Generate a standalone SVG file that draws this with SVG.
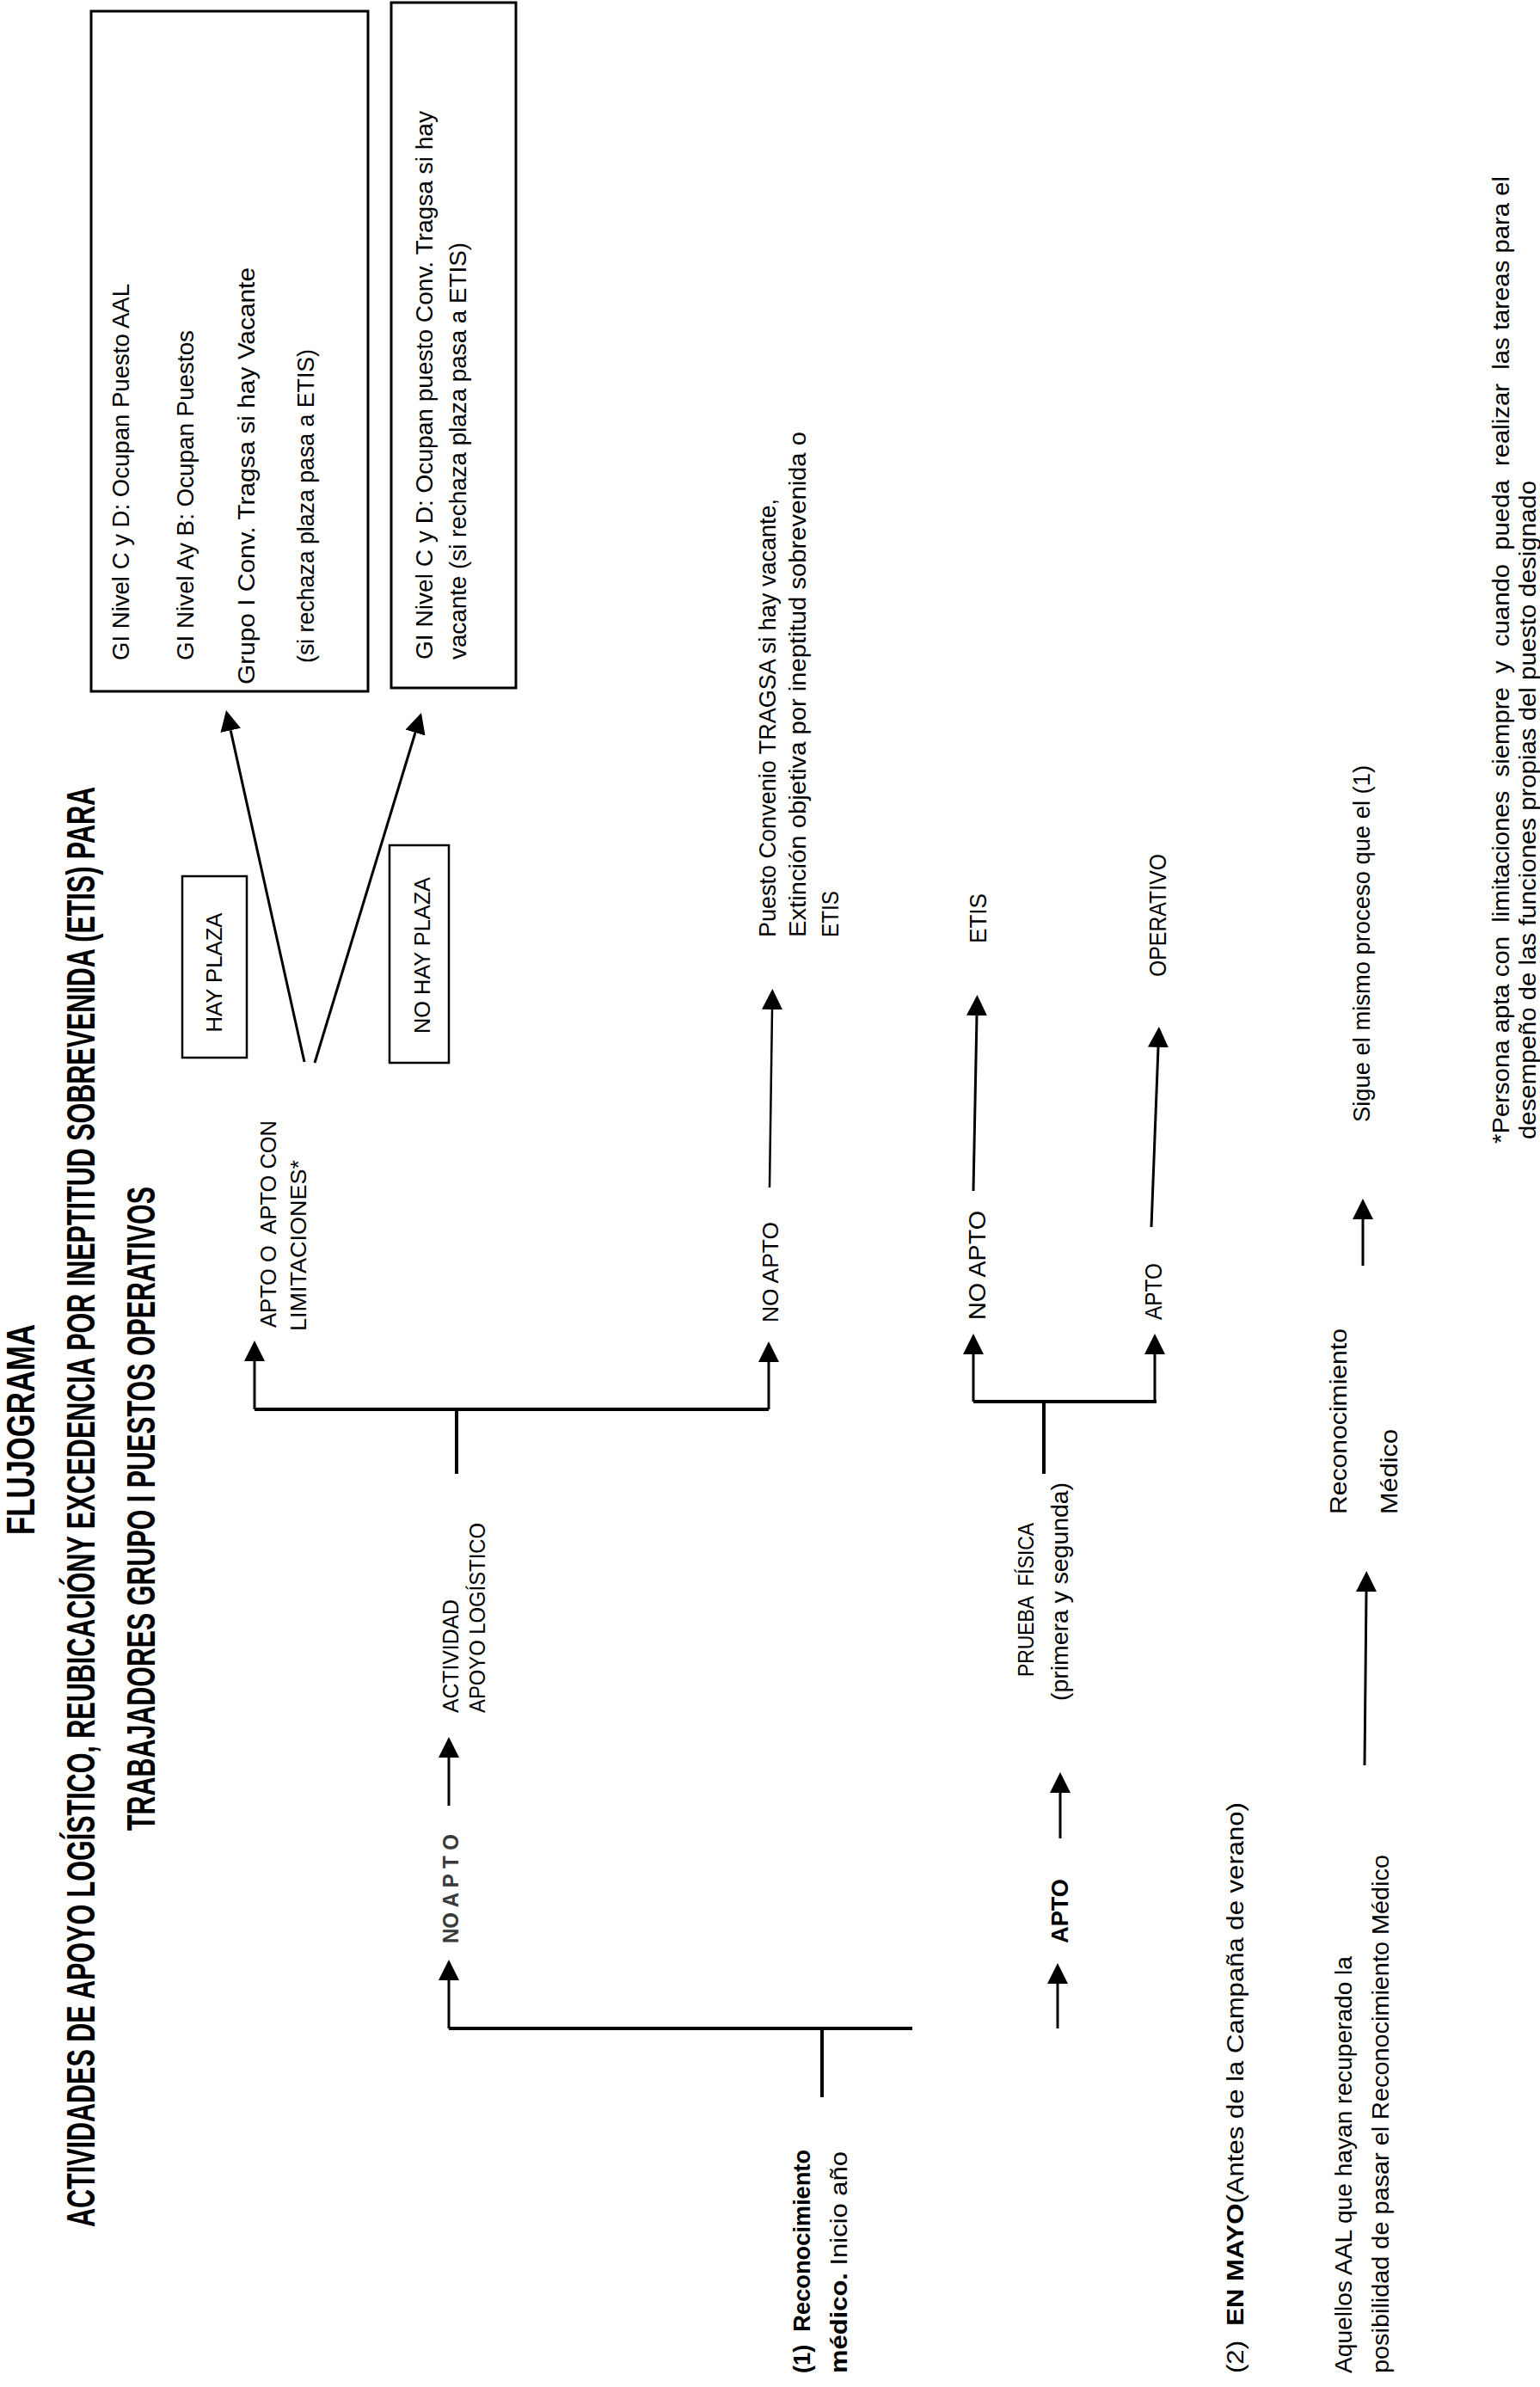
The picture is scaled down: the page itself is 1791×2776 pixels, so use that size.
<svg xmlns="http://www.w3.org/2000/svg" width="1791" height="2776" viewBox="0 0 1791 2776">
<style>
text{font-family:"Liberation Sans",Arial,sans-serif;fill:#000}
.ti{font-weight:bold;font-size:47px}
.b{font-size:27px}
.a{font-size:25px}
.bd{font-weight:bold}
.box{fill:none;stroke:#000;stroke-width:3}
.sbox{fill:none;stroke:#000;stroke-width:2.5}
.c line{stroke:#000;stroke-width:3;fill:none}
.c .f{stroke-width:4}
.c .t{stroke-width:2.5}
</style>
<defs>
<marker id="ah" viewBox="0 0 24 24" refX="0" refY="12" markerWidth="24" markerHeight="24" markerUnits="userSpaceOnUse" orient="auto"><path d="M0,0 L24,12 L0,24 z" fill="#000"/></marker>
</defs>
<rect width="1791" height="2776" fill="#fff"/>

<g id="title">
<text class="ti" transform="translate(40,1785) rotate(-90)" textLength="245" lengthAdjust="spacingAndGlyphs">FLUJOGRAMA</text>
<text class="ti" transform="translate(110,2590) rotate(-90)" textLength="1675" lengthAdjust="spacingAndGlyphs">ACTIVIDADES DE APOYO LOGÍSTICO, REUBICACIÓNY EXCEDENCIA POR INEPTITUD SOBREVENIDA (ETIS) PARA</text>
<text class="ti" transform="translate(180,2129) rotate(-90)" textLength="749" lengthAdjust="spacingAndGlyphs">TRABAJADORES GRUPO I PUESTOS OPERATIVOS</text>
</g>

<g id="box-hay-plaza-result">
<rect class="box" x="106" y="13" width="322" height="791"/>
<text class="b" transform="translate(150,768) rotate(-90)" textLength="438" lengthAdjust="spacingAndGlyphs">GI Nivel C y D: Ocupan Puesto AAL</text>
<text class="b" transform="translate(225,768) rotate(-90)" textLength="384" lengthAdjust="spacingAndGlyphs">GI Nivel Ay B: Ocupan Puestos</text>
<text class="b" transform="translate(296,796) rotate(-90)" textLength="485" lengthAdjust="spacingAndGlyphs">Grupo I Conv. Tragsa si hay Vacante</text>
<text class="b" transform="translate(365,771) rotate(-90)" textLength="365" lengthAdjust="spacingAndGlyphs">(si rechaza plaza pasa a ETIS)</text>
</g>

<g id="box-no-hay-plaza-result">
<rect class="box" x="455" y="3" width="145" height="797"/>
<text class="b" transform="translate(503,767) rotate(-90)" textLength="638" lengthAdjust="spacingAndGlyphs">GI Nivel C y D: Ocupan puesto Conv. Tragsa si hay</text>
<text class="b" transform="translate(542,767) rotate(-90)" textLength="485" lengthAdjust="spacingAndGlyphs">vacante (si rechaza plaza pasa a ETIS)</text>
</g>

<g id="hay-plaza">
<rect class="sbox" x="212" y="1019" width="75" height="211"/>
<text class="a" text-anchor="middle" transform="translate(258,1131) rotate(-90)" textLength="139" lengthAdjust="spacingAndGlyphs">HAY PLAZA</text>
</g>

<g id="no-hay-plaza">
<rect class="sbox" x="453" y="983" width="69" height="253"/>
<text class="a" text-anchor="middle" transform="translate(500,1111) rotate(-90)" textLength="182" lengthAdjust="spacingAndGlyphs">NO HAY PLAZA</text>
</g>

<g id="apto-limitaciones">
<text class="a" xml:space="preserve" transform="translate(321,1544) rotate(-90)" textLength="241" lengthAdjust="spacingAndGlyphs">APTO O  APTO CON</text>
<text class="a" transform="translate(356,1548) rotate(-90)" textLength="199" lengthAdjust="spacingAndGlyphs">LIMITACIONES*</text>
</g>

<g id="no-apto-1">
<text class="a" transform="translate(905,1538) rotate(-90)" textLength="117" lengthAdjust="spacingAndGlyphs">NO APTO</text>
</g>

<g id="puesto-convenio">
<text class="b" transform="translate(902,1090) rotate(-90)" textLength="510" lengthAdjust="spacingAndGlyphs">Puesto Convenio TRAGSA si hay vacante,</text>
<text class="b" transform="translate(937,1090) rotate(-90)" textLength="588" lengthAdjust="spacingAndGlyphs">Extinción objetiva por ineptitud sobrevenida o</text>
<text class="b" transform="translate(975,1090) rotate(-90)" textLength="54" lengthAdjust="spacingAndGlyphs">ETIS</text>
</g>

<g id="actividad-apoyo">
<text class="a" transform="translate(533,1992) rotate(-90)" textLength="132" lengthAdjust="spacingAndGlyphs">ACTIVIDAD</text>
<text class="a" transform="translate(564,1992) rotate(-90)" textLength="221" lengthAdjust="spacingAndGlyphs">APOYO LOGÍSTICO</text>
</g>

<g id="no-apto-rm">
<text class="a" transform="translate(533,2260) rotate(-90)" textLength="127" lengthAdjust="spacingAndGlyphs" style="font-weight:bold;fill:#3a3a3a">NO A P T O</text>
</g>

<g id="reconocimiento-1">
<text class="b bd" xml:space="preserve" transform="translate(942,2760) rotate(-90)" textLength="260" lengthAdjust="spacingAndGlyphs">(1)  Reconocimiento</text>
<text class="b" transform="translate(985,2760) rotate(-90)" textLength="258" lengthAdjust="spacingAndGlyphs"><tspan class="bd">médico.</tspan> Inicio año</text>
</g>

<g id="no-apto-2">
<text class="b" transform="translate(1146,1535) rotate(-90)" textLength="127" lengthAdjust="spacingAndGlyphs">NO APTO</text>
</g>

<g id="etis">
<text class="b" transform="translate(1147,1097) rotate(-90)" textLength="58" lengthAdjust="spacingAndGlyphs">ETIS</text>
</g>

<g id="apto-2">
<text class="b" transform="translate(1351,1535) rotate(-90)" textLength="66" lengthAdjust="spacingAndGlyphs">APTO</text>
</g>

<g id="operativo">
<text class="b" transform="translate(1356,1136) rotate(-90)" textLength="143" lengthAdjust="spacingAndGlyphs">OPERATIVO</text>
</g>

<g id="prueba-fisica">
<text class="a" xml:space="preserve" transform="translate(1202,1950) rotate(-90)" textLength="179" lengthAdjust="spacingAndGlyphs">PRUEBA  FÍSICA</text>
<text class="b" transform="translate(1242,1978) rotate(-90)" textLength="254" lengthAdjust="spacingAndGlyphs">(primera y segunda)</text>
</g>

<g id="apto-bold">
<text class="b bd" transform="translate(1242,2260) rotate(-90)" textLength="75" lengthAdjust="spacingAndGlyphs">APTO</text>
</g>

<g id="en-mayo">
<text class="b" xml:space="preserve" transform="translate(1446,2760) rotate(-90)" textLength="664" lengthAdjust="spacingAndGlyphs">(2)  <tspan class="bd">EN MAYO</tspan>(Antes de la Campaña de verano)</text>
</g>

<g id="aquellos-aal">
<text class="b" transform="translate(1572,2760) rotate(-90)" textLength="485" lengthAdjust="spacingAndGlyphs">Aquellos AAL que hayan recuperado la</text>
<text class="b" transform="translate(1615,2760) rotate(-90)" textLength="603" lengthAdjust="spacingAndGlyphs">posibilidad de pasar el Reconocimiento Médico</text>
</g>

<g id="reconocimiento-medico">
<text class="b" transform="translate(1566,1761) rotate(-90)" textLength="216" lengthAdjust="spacingAndGlyphs">Reconocimiento</text>
<text class="b" transform="translate(1625,1761) rotate(-90)" textLength="99" lengthAdjust="spacingAndGlyphs">Médico</text>
</g>

<g id="sigue">
<text class="b" transform="translate(1593,1305) rotate(-90)" textLength="415" lengthAdjust="spacingAndGlyphs">Sigue el mismo proceso que el (1)</text>
</g>

<g id="nota">
<text class="b" xml:space="preserve" transform="translate(1755,1330) rotate(-90)" textLength="1125" lengthAdjust="spacingAndGlyphs">*Persona apta con  limitaciones  siempre  y  cuando  pueda  realizar  las tareas para el</text>
<text class="b" transform="translate(1786,1325) rotate(-90)" textLength="766" lengthAdjust="spacingAndGlyphs">desempeño de las funciones propias del puesto designado</text>
</g>

<g id="connectors" class="c">
<line class="f" x1="956" y1="2439" x2="956" y2="2359"/>
<line class="f" x1="522" y1="2359" x2="1061" y2="2359"/>
<line x1="522" y1="2359" x2="522" y2="2303" marker-end="url(#ah)"/>
<line x1="522" y1="2100" x2="522" y2="2044" marker-end="url(#ah)"/>
<line class="f" x1="531" y1="1714" x2="531" y2="1639"/>
<line class="f" x1="296" y1="1639" x2="894" y2="1639"/>
<line x1="296" y1="1639" x2="296" y2="1583" marker-end="url(#ah)"/>
<line x1="894" y1="1639" x2="894" y2="1584" marker-end="url(#ah)"/>
<line x1="354" y1="1235" x2="268.2" y2="849.4" marker-end="url(#ah)"/>
<line x1="366" y1="1236" x2="483" y2="852" marker-end="url(#ah)"/>
<line class="t" x1="895" y1="1381" x2="898" y2="1174" marker-end="url(#ah)"/>
<line x1="1230" y1="2359" x2="1230" y2="2307" marker-end="url(#ah)"/>
<line x1="1233" y1="2138" x2="1233" y2="2085" marker-end="url(#ah)"/>
<line class="f" x1="1214" y1="1714" x2="1214" y2="1630"/>
<line class="f" x1="1132" y1="1630" x2="1345" y2="1630"/>
<line x1="1132" y1="1630" x2="1132" y2="1575" marker-end="url(#ah)"/>
<line x1="1343" y1="1630" x2="1343" y2="1575" marker-end="url(#ah)"/>
<line x1="1132" y1="1385" x2="1136" y2="1181" marker-end="url(#ah)"/>
<line x1="1339" y1="1427" x2="1347" y2="1218" marker-end="url(#ah)"/>
<line x1="1587" y1="2053" x2="1589" y2="1851" marker-end="url(#ah)"/>
<line x1="1585" y1="1472" x2="1585" y2="1418" marker-end="url(#ah)"/>
</g>
</svg>
